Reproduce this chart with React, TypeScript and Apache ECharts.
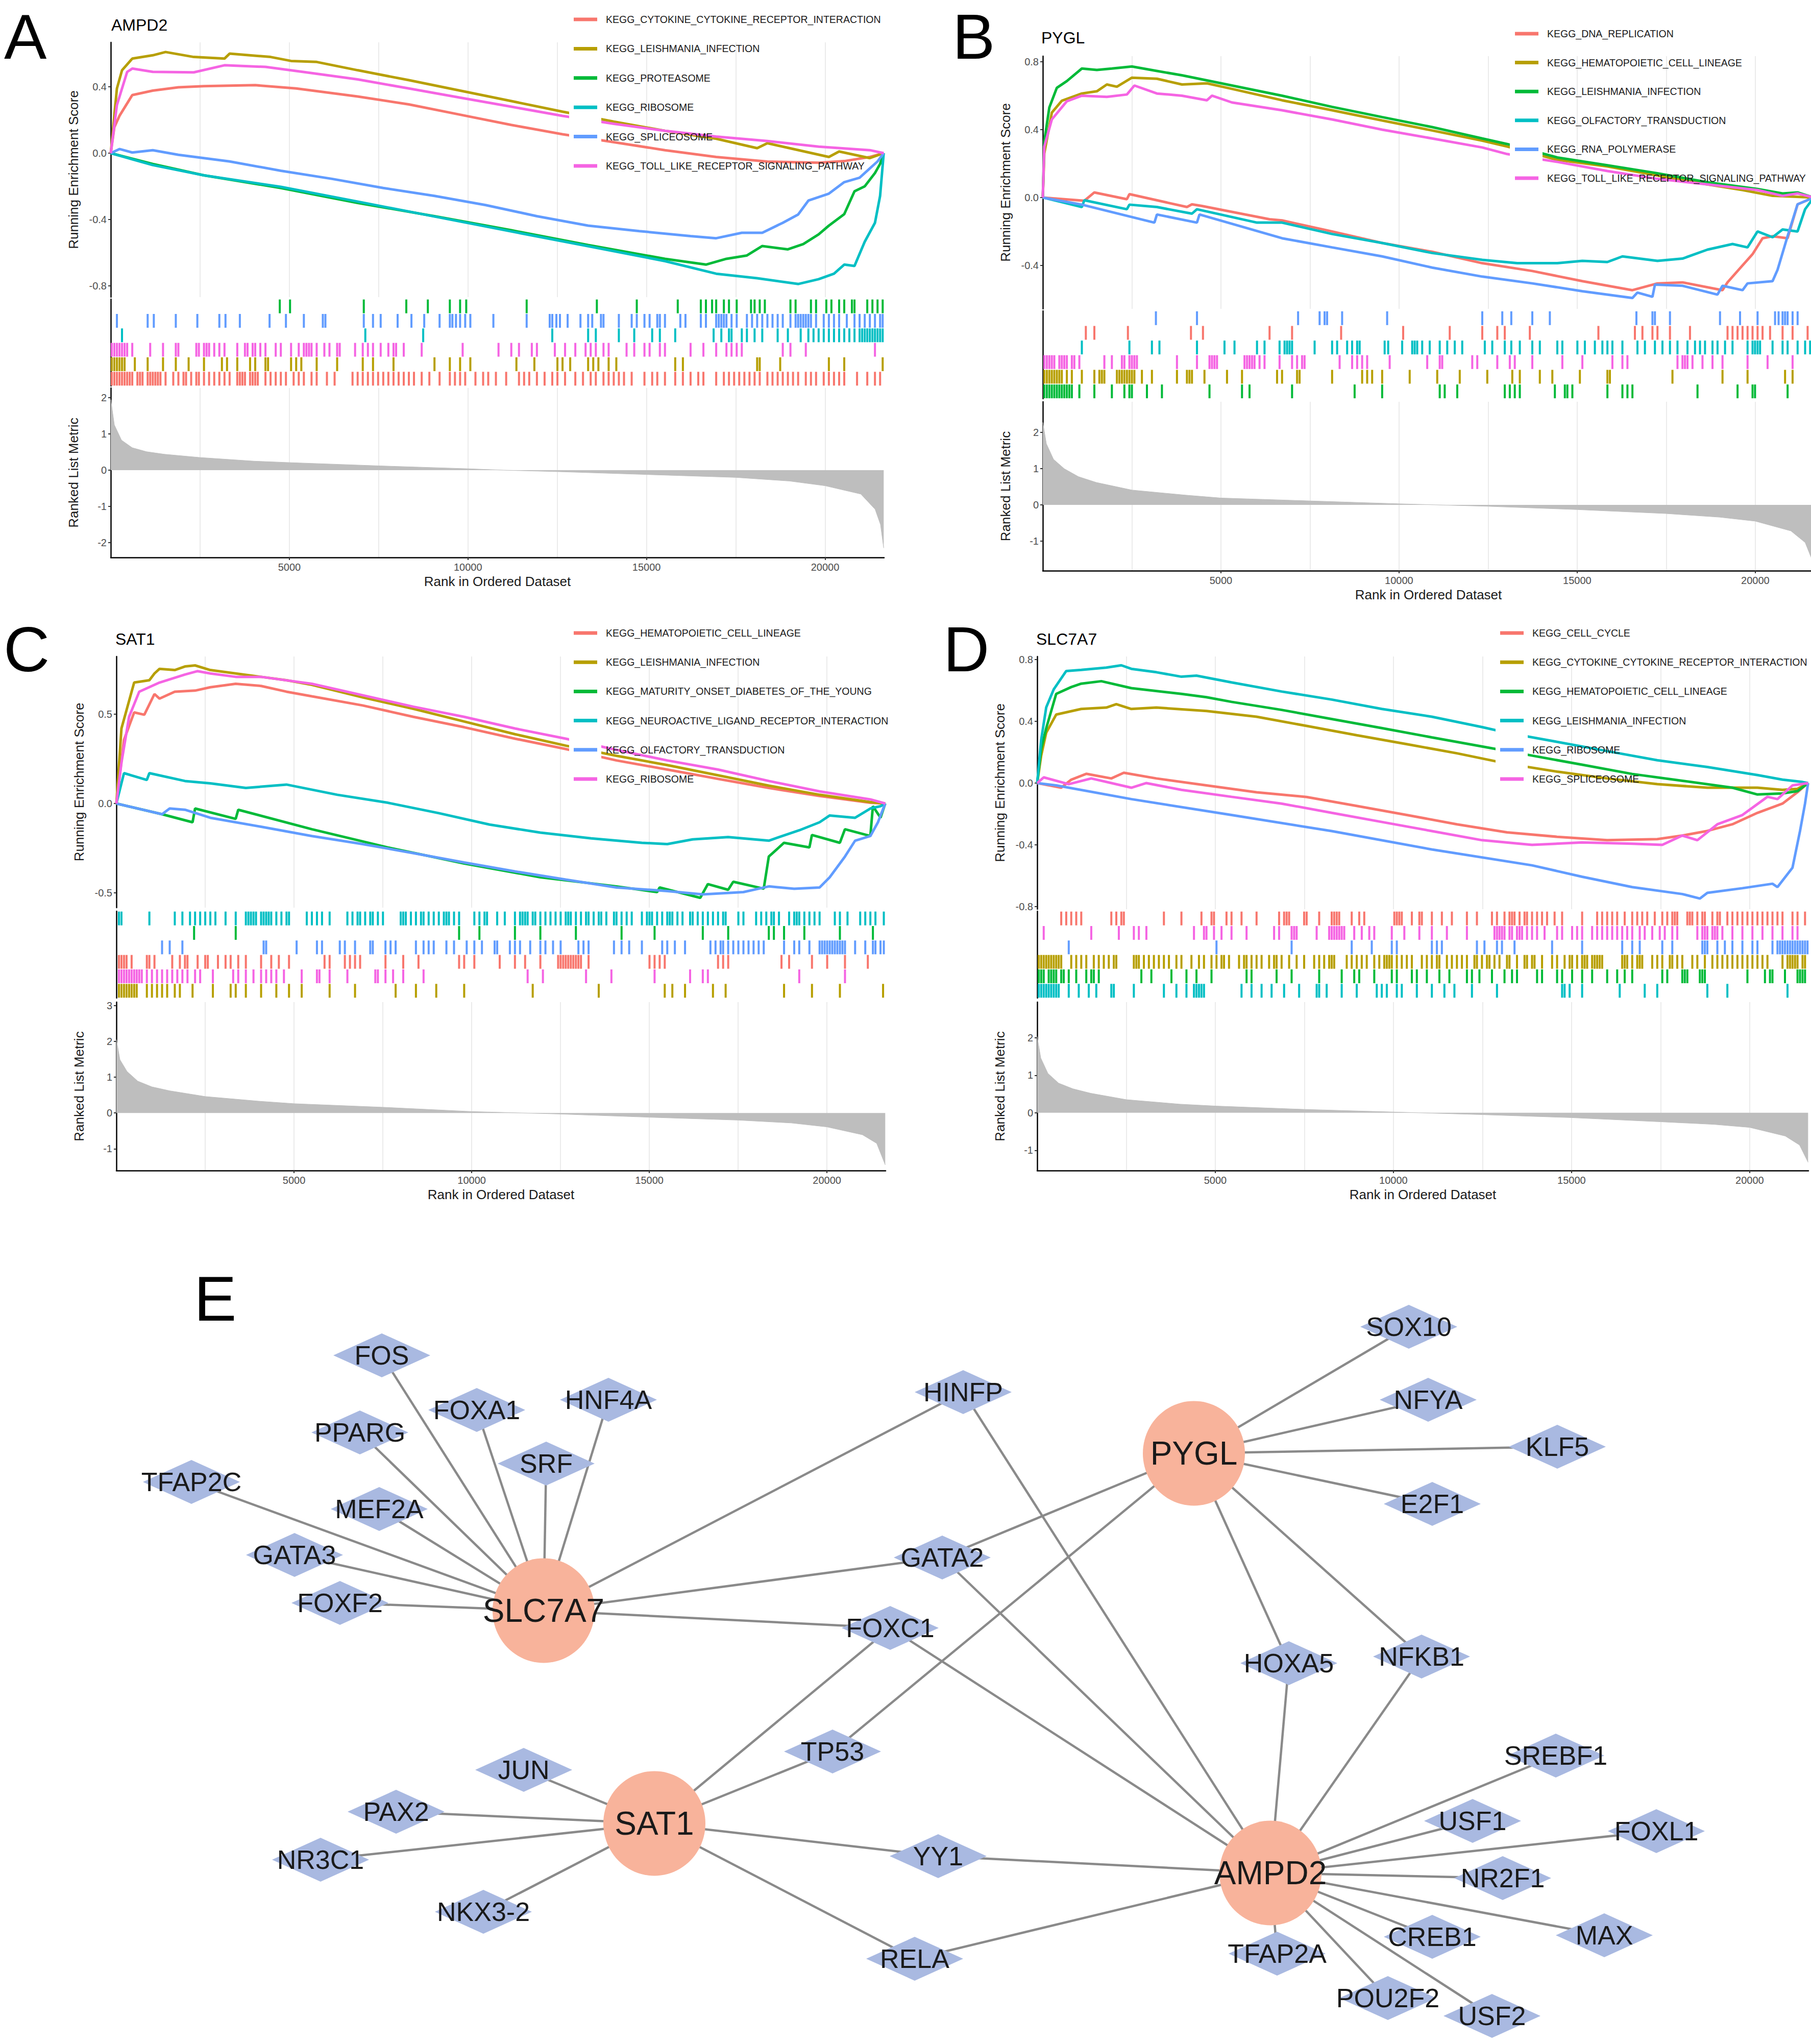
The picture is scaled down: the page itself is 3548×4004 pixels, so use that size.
import React, { useEffect, useRef } from 'react';
import * as echarts from 'echarts';

const FONT = 'Liberation Sans';
const RANK_MAX = 21650;
const rankLabels = [5000, 10000, 15000, 20000];
const SET_COLORS = ['#F8766D', '#B79F00', '#00BA38', '#00BFC4', '#619CFF', '#F564E3'];

// ================= Panel A : AMPD2 =================
const geneA = 'AMPD2';
const setsA = ['KEGG_CYTOKINE_CYTOKINE_RECEPTOR_INTERACTION', 'KEGG_LEISHMANIA_INFECTION', 'KEGG_PROTEASOME', 'KEGG_RIBOSOME', 'KEGG_SPLICEOSOME', 'KEGG_TOLL_LIKE_RECEPTOR_SIGNALING_PATHWAY'];
const rugOrderA = [2, 4, 3, 5, 1, 0];
const esTicksA = [-0.8, -0.4, 0, 0.4];
const metricTicksA = [-2, -1, 0, 1, 2];
const esA_cyto = [[0,0],[100,0.156],[244,0.225],[602,0.35],[1176,0.377],[1893,0.397],[2610,0.404],[4044,0.41],[5191,0.39],[6912,0.342],[8346,0.294],[9780,0.232],[11214,0.17],[12648,0.114],[14082,0.066],[15516,0.018],[16950,-0.023],[18384,-0.051],[19818,-0.058],[20535,-0.048],[21252,-0.023],[21640,0]];
const esA_leish = [[0,0],[172,0.39],[315,0.5],[602,0.57],[1176,0.59],[1534,0.61],[2323,0.58],[3183,0.57],[3327,0.6],[4474,0.58],[5048,0.556],[5765,0.55],[6912,0.5],[8346,0.44],[9780,0.377],[11214,0.314],[12648,0.25],[14082,0.19],[15516,0.135],[16950,0.087],[18097,0.03],[18384,0.06],[20105,-0.023],[20392,0.01],[21252,-0.03],[21640,0]];
const esA_prot = [[0,0],[1176,-0.065],[2610,-0.134],[4761,-0.21],[6912,-0.3],[9063,-0.38],[11214,-0.465],[13365,-0.554],[15516,-0.637],[16663,-0.672],[17237,-0.637],[17810,-0.617],[18240,-0.56],[18957,-0.58],[19388,-0.548],[19818,-0.49],[20105,-0.437],[20535,-0.368],[20822,-0.23],[21109,-0.2],[21395,-0.12],[21539,-0.065],[21640,0]];
const esA_ribo = [[0,0],[1176,-0.072],[2610,-0.134],[4761,-0.203],[6912,-0.292],[9063,-0.382],[11214,-0.472],[13365,-0.561],[15516,-0.651],[16950,-0.727],[18097,-0.754],[19244,-0.789],[19818,-0.76],[20248,-0.727],[20535,-0.672],[20822,-0.68],[21109,-0.534],[21395,-0.42],[21539,-0.258],[21640,0]];
const esA_splice = [[0,0],[244,0.025],[602,0.004],[1176,0.018],[1893,-0.01],[3327,-0.05],[4761,-0.106],[6195,-0.155],[7629,-0.21],[9063,-0.258],[10497,-0.313],[11931,-0.38],[13365,-0.437],[14799,-0.47],[16233,-0.5],[16950,-0.513],[17667,-0.48],[18240,-0.48],[18814,-0.42],[19244,-0.37],[19531,-0.286],[20105,-0.244],[20535,-0.175],[20965,-0.148],[21252,-0.092],[21467,-0.05],[21640,0]];
const esA_toll = [[0,0],[172,0.29],[459,0.49],[602,0.51],[1176,0.49],[2323,0.487],[3183,0.53],[4331,0.52],[5478,0.487],[6912,0.445],[8346,0.39],[9780,0.335],[11214,0.28],[12648,0.225],[14082,0.177],[15516,0.135],[16950,0.1],[18384,0.073],[19818,0.039],[21252,0.018],[21640,0]];
const hitsA_cyto = [29,100,172,244,315,387,459,531,602,746,818,889,1033,1104,1176,1248,1319,1391,1534,1750,1893,2036,2108,2251,2395,2467,2610,2753,2897,3040,3184,3327,3542,3614,3685,3757,3900,3972,4044,4116,4331,4474,4618,4761,4904,5120,5263,5406,5621,5765,6052,6267,6769,6912,7055,7199,7342,7485,7629,7772,7916,8059,8203,8346,8489,8705,8920,9206,9493,9636,9780,9923,10210,10425,10568,10783,11070,11429,11572,11716,11931,12146,12361,12505,12719,13006,13221,13436,13580,13795,13939,14082,14225,14369,14584,14942,15158,15301,15516,15803,16018,16233,16448,16592,16950,17165,17308,17452,17595,17739,17882,18025,18169,18384,18527,18671,18814,18957,19101,19244,19459,19603,19746,19961,20105,20248,20392,20535,20894,21180,21395,21539];
const hitsA_leish = [29,100,172,244,315,387,674,1033,1463,1821,2180,2610,3112,3255,3542,3900,4044,4331,4403,5048,5191,5335,5765,6338,7055,7342,7916,9063,9493,9780,10067,11357,11860,12505,12648,12863,13365,13508,13652,13939,14154,15803,16018,18097,18169,18742,20105,20535,21611];
const hitsA_prot = [4732,5019,7084,8274,8877,9493,9780,9952,11644,13609,14727,15874,16520,16663,16835,16950,17165,17308,17524,17925,18025,18169,18312,19029,19173,19603,19746,20033,20176,20392,20535,20750,20822,21180,21324,21467,21611];
const hitsA_ribo = [315,7127,8747,12361,13365,13580,14225,14656,15158,15373,15803,16878,17094,17308,17380,17667,17810,18025,18240,18671,18957,19316,19531,19675,19818,19961,20105,20248,20392,20535,20678,20822,20965,21037,21109,21180,21252,21324,21395,21467,21539,21611];
const hitsA_splice = [172,1033,1205,1821,2424,3040,3212,3614,4446,4904,5406,5937,6009,7084,7342,7557,8031,8418,8776,9206,9493,9565,9665,9780,9923,10067,10712,11644,12289,12361,12476,12576,12791,13150,13365,13480,13724,13795,14225,14584,14727,14942,15086,15301,15373,15516,15946,16090,16520,16663,16950,17022,17094,17165,17237,17380,17524,17810,17954,18097,18240,18384,18527,18671,18814,19029,19173,19244,19316,19388,19459,19531,19603,19746,19961,20105,20248,20392,20607,20822,20965,21109,21252,21395,21539,21611];
const hitsA_toll = [29,100,172,244,315,387,459,602,1104,1463,1821,1893,2395,2467,2610,2682,2753,2897,3040,3184,3542,3757,3829,3972,4044,4187,4331,4618,4761,5048,5263,5406,5478,5550,5621,5765,5980,6123,6338,6410,6840,7055,7199,7342,7557,7772,7916,7988,8203,8705,9852,10856,11214,11429,11788,11931,12433,12719,13006,13293,13436,13580,13795,13939,14441,14656,14942,15086,15373,15516,16233,16592,16950,17237,17380,17524,17667,18814,19029,19459,21395];
const metricA = [[0,1.95],[100,1.25],[300,0.83],[600,0.62],[1000,0.51],[1500,0.44],[2500,0.35],[4000,0.25],[5000,0.21],[7500,0.12],[10000,0.04],[11000,0],[12500,-0.04],[15000,-0.12],[17500,-0.2],[19000,-0.3],[20000,-0.43],[21000,-0.66],[21400,-1.08],[21550,-1.5],[21640,-2.15]];

// ================= Panel B : PYGL =================
const geneB = 'PYGL';
const setsB = ['KEGG_DNA_REPLICATION', 'KEGG_HEMATOPOIETIC_CELL_LINEAGE', 'KEGG_LEISHMANIA_INFECTION', 'KEGG_OLFACTORY_TRANSDUCTION', 'KEGG_RNA_POLYMERASE', 'KEGG_TOLL_LIKE_RECEPTOR_SIGNALING_PATHWAY'];
const rugOrderB = [4, 0, 3, 5, 1, 2];
const esTicksB = [-0.4, 0, 0.4, 0.8];
const metricTicksB = [-1, 0, 1, 2];
const esB_dna = [[0,0],[1166,-0.019],[1447,0.03],[2360,-0.01],[2431,0.02],[4046,-0.056],[4187,-0.04],[4468,-0.05],[6365,-0.128],[6716,-0.135],[8121,-0.2],[9526,-0.268],[10931,-0.32],[12336,-0.387],[13741,-0.433],[15146,-0.493],[16551,-0.546],[17253,-0.506],[17956,-0.5],[19080,-0.546],[19220,-0.5],[19642,-0.4],[19923,-0.334],[20204,-0.24],[20485,-0.228],[20906,-0.24],[21187,-0.04],[21640,0]];
const esB_hemato = [[0,0],[42,0.26],[253,0.5],[534,0.57],[1096,0.613],[1517,0.626],[1798,0.666],[2079,0.653],[2501,0.706],[3203,0.7],[3906,0.666],[4608,0.673],[5311,0.64],[6716,0.573],[8121,0.514],[9526,0.454],[10931,0.395],[12336,0.335],[13038,0.3],[14443,0.222],[15848,0.183],[17253,0.13],[18658,0.077],[19642,0.044],[20485,0.01],[21640,0]];
const esB_leish = [[0,0],[42,0.33],[183,0.53],[393,0.646],[674,0.686],[1096,0.76],[1517,0.752],[1939,0.76],[2501,0.772],[3203,0.746],[3906,0.72],[5311,0.66],[6716,0.6],[8121,0.534],[9526,0.474],[10931,0.415],[12336,0.348],[13038,0.315],[14443,0.236],[15848,0.19],[17253,0.143],[18658,0.09],[20063,0.05],[20766,0.024],[21187,0.03],[21640,0]];
const esB_olf = [[0,0],[1096,-0.056],[1166,-0.016],[2360,-0.069],[2431,-0.042],[3203,-0.056],[4187,-0.095],[4327,-0.069],[6013,-0.148],[6716,-0.148],[8121,-0.215],[9526,-0.268],[10931,-0.327],[12336,-0.367],[13319,-0.387],[14443,-0.387],[15146,-0.373],[15848,-0.38],[16270,-0.347],[17253,-0.373],[17956,-0.36],[18658,-0.307],[19361,-0.274],[19782,-0.294],[20063,-0.2],[20485,-0.234],[20766,-0.188],[21187,-0.2],[21398,-0.069],[21640,0]];
const esB_rna = [[0,0],[1096,-0.042],[3133,-0.148],[3203,-0.1],[4327,-0.148],[4398,-0.1],[6716,-0.24],[8121,-0.294],[9526,-0.347],[10931,-0.413],[12336,-0.466],[13741,-0.506],[15146,-0.552],[16551,-0.592],[16691,-0.56],[17113,-0.585],[17183,-0.513],[17956,-0.52],[18939,-0.572],[19080,-0.52],[19642,-0.546],[19782,-0.506],[20485,-0.493],[20625,-0.426],[20906,-0.228],[21187,-0.04],[21640,0]];
const esB_toll = [[0,0],[42,0.3],[253,0.46],[674,0.567],[1096,0.6],[1798,0.593],[2360,0.607],[2571,0.66],[3203,0.613],[3906,0.6],[4608,0.573],[4749,0.6],[5311,0.56],[6716,0.514],[8121,0.46],[9526,0.4],[10931,0.348],[12336,0.295],[13038,0.256],[14443,0.21],[15848,0.156],[17253,0.11],[18658,0.077],[20063,0.044],[20766,0.01],[21187,0.024],[21640,0]];
const hitsB_dna = [1208,1447,2389,4159,4496,6365,6997,8374,10116,11423,12336,12758,12968,13671,15596,16621,16832,17113,17254,17605,18167,19221,19361,19502,19642,19783,19923,20064,20204,20415,20766,21047,21469];
const hitsB_hemato = [42,113,183,253,323,394,464,534,675,815,1096,1447,1588,1658,1728,2080,2150,2220,2290,2361,2431,2501,2571,2782,3063,3766,4046,4117,4187,4538,5171,5592,6576,6716,7138,7208,8121,8964,9105,9245,9526,10299,11072,11704,12477,13179,13390,13952,14303,15076,15849,15919,17675,19080,19783,20836,21047];
const hitsB_leish = [42,113,183,253,323,394,464,534,604,675,745,815,1026,1447,1939,2290,2431,2501,2923,3344,4679,5592,5803,6997,8753,9526,11142,11282,11634,12968,13109,13249,13390,14374,14654,14725,14865,15849,16270,16411,16551,18378,19502,19923,19993,20907];
const hitsB_olf = [1096,2431,3063,3274,4328,5100,5381,6013,6224,6646,6786,6857,6927,6997,7630,8121,8262,8543,8683,8824,8894,9596,9695,10088,10369,10439,10510,10650,10861,11142,11353,11564,11774,12407,12617,12968,13151,13390,13741,13952,14443,14584,15006,15216,15497,15708,15849,15989,16270,16692,16902,17183,17394,17605,17816,18097,18308,18448,18589,18799,18940,19151,19361,19783,19923,19993,20064,20134,20485,20766,20907,21188,21399,21539];
const hitsB_rna = [3175,4328,7166,7770,7910,7980,8402,9666,12336,12898,13151,13741,14233,16663,17113,17183,17605,19010,19572,20064,20555,20654,20766,20836,20907,21047,21188];
const hitsB_toll = [42,113,183,253,323,464,534,604,675,815,885,1026,1728,1939,2220,2290,2431,2501,2571,2642,3766,4328,4679,4749,4819,4890,5662,5733,5803,5873,5943,6084,6224,6646,6997,7138,7278,7348,8332,8683,8824,8964,9105,9737,10791,11142,11212,12055,12196,12758,13109,13249,13741,14584,15146,15989,16270,16411,17816,17956,18026,18097,18237,18518,18799,19080,19783,20345,21047];
const metricB = [[0,2.28],[100,1.69],[300,1.26],[600,1.0],[1000,0.78],[1500,0.62],[2500,0.41],[4000,0.27],[5000,0.19],[7500,0.11],[10000,0.03],[12500,-0.04],[15000,-0.13],[17500,-0.24],[19000,-0.34],[20000,-0.45],[21000,-0.72],[21400,-1.04],[21640,-1.63]];

// ================= Panel C : SAT1 =================
const geneC = 'SAT1';
const setsC = ['KEGG_HEMATOPOIETIC_CELL_LINEAGE', 'KEGG_LEISHMANIA_INFECTION', 'KEGG_MATURITY_ONSET_DIABETES_OF_THE_YOUNG', 'KEGG_NEUROACTIVE_LIGAND_RECEPTOR_INTERACTION', 'KEGG_OLFACTORY_TRANSDUCTION', 'KEGG_RIBOSOME'];
const rugOrderC = [3, 2, 4, 0, 5, 1];
const esTicksC = [-0.5, 0, 0.5];
const metricTicksC = [-1, 0, 1, 2, 3];
const esC_hemato = [[0,0],[214,0.356],[500,0.51],[786,0.497],[1072,0.613],[1215,0.587],[1643,0.626],[2215,0.632],[2644,0.651],[3358,0.67],[4073,0.658],[4787,0.626],[5502,0.6],[6931,0.549],[8360,0.485],[9789,0.427],[11218,0.363],[12647,0.305],[14076,0.241],[15505,0.19],[16934,0.138],[18363,0.087],[19792,0.042],[21221,0.004],[21640,0]];
const esC_leish = [[0,0],[143,0.42],[357,0.574],[500,0.677],[929,0.69],[1072,0.728],[1215,0.754],[1643,0.747],[1929,0.767],[2215,0.773],[2644,0.747],[3358,0.728],[4073,0.709],[4787,0.69],[5502,0.664],[6931,0.594],[8360,0.53],[9789,0.459],[11218,0.388],[12647,0.324],[14076,0.267],[15505,0.215],[16934,0.158],[18363,0.1],[19792,0.049],[21221,0.008],[21640,0]];
const esC_mody = [[0,0],[1286,-0.06],[2144,-0.105],[2215,-0.028],[3358,-0.086],[3430,-0.035],[5502,-0.144],[7645,-0.246],[9789,-0.336],[11932,-0.413],[14076,-0.464],[15219,-0.496],[15290,-0.47],[16434,-0.528],[16648,-0.451],[17219,-0.483],[17362,-0.438],[18220,-0.477],[18363,-0.297],[18791,-0.22],[19506,-0.246],[19577,-0.176],[20363,-0.22],[20506,-0.144],[21221,-0.182],[21292,-0.015],[21507,-0.08],[21640,0]];
const esC_neuro = [[0,0],[214,0.17],[857,0.132],[929,0.17],[1929,0.126],[2644,0.113],[3644,0.087],[4787,0.106],[6216,0.049],[7645,0.004],[9074,-0.054],[10503,-0.118],[11932,-0.163],[13361,-0.195],[14790,-0.22],[15505,-0.227],[16219,-0.201],[17219,-0.188],[18363,-0.208],[18648,-0.188],[19220,-0.15],[19792,-0.105],[20077,-0.067],[20792,-0.08],[21221,-0.028],[21507,-0.015],[21640,0]];
const esC_olf = [[0,0],[1286,-0.06],[1500,-0.028],[1929,-0.035],[2644,-0.08],[4073,-0.13],[5502,-0.182],[6931,-0.227],[8360,-0.278],[9789,-0.33],[11218,-0.38],[12647,-0.426],[14076,-0.47],[15505,-0.49],[16505,-0.509],[17648,-0.496],[18363,-0.464],[19077,-0.477],[19792,-0.47],[20077,-0.413],[20506,-0.297],[20792,-0.208],[21221,-0.182],[21435,-0.105],[21640,0]];
const esC_ribo = [[0,0],[143,0.228],[357,0.485],[643,0.626],[1215,0.677],[1929,0.722],[2286,0.741],[2644,0.728],[3358,0.709],[4073,0.709],[5502,0.67],[6931,0.606],[8360,0.542],[9789,0.485],[11218,0.42],[12647,0.363],[14076,0.3],[15505,0.241],[16934,0.19],[18363,0.126],[19792,0.068],[21221,0.023],[21640,0]];
const hitsC_hemato = [72,143,215,286,429,858,929,1072,1572,1787,1930,2001,2287,2501,2573,2859,3073,3216,3430,3644,4073,4359,4573,4859,5859,6002,6431,6574,6717,6860,7574,8074,8503,9646,9789,10075,10789,11218,11504,11933,12433,12504,12576,12647,12718,12790,12861,12933,13004,13076,13290,15005,15148,15291,15434,16934,17077,17220,18720,18935,19578,20006,20507,21150];
const hitsC_leish = [72,143,215,286,358,429,501,572,858,1001,1144,1286,1429,1644,1787,2144,2716,3216,3359,3644,4073,4502,4859,5216,6002,6717,7860,8431,9003,9789,11718,13576,15434,15648,16005,16791,17148,18792,19578,20364,21579];
const hitsC_mody = [2187,3359,9646,10218,11218,11933,12933,14219,15148,16505,17220,18363,18506,18792,19363,20364,21293];
const hitsC_neuro = [72,143,929,1644,1858,2072,2215,2358,2501,2644,2787,3073,3359,3644,3716,3787,3859,3930,4073,4144,4216,4287,4359,4502,4645,4788,4859,5359,5502,5645,5788,6002,6502,6645,6788,6860,7002,7145,7217,7360,7503,8003,8074,8146,8289,8431,8574,8646,8789,8932,9075,9217,9289,9360,9503,9646,10075,10218,10361,10432,10718,10932,11218,11361,11432,11504,11575,11718,11790,11933,12076,12218,12361,12504,12647,12718,12790,12933,13076,13219,13290,13433,13576,13647,13790,14005,14076,14219,14362,14505,14791,14933,15005,15076,15219,15362,15505,15576,15648,15791,15934,16148,16220,16362,16505,16648,16791,16934,17077,17148,17506,17649,18006,18149,18292,18435,18506,18649,18935,19078,19149,19220,19363,19506,19649,19792,20221,20364,20578,20935,21078,21221,21364,21600];
const hitsC_olf = [1286,1501,1858,4144,4216,5073,5645,5788,6288,6431,6717,7145,7217,7574,7717,7860,8431,8646,8789,8932,9289,9503,9860,10075,10289,10646,10718,11075,11218,11361,11647,11933,12076,12290,12504,13004,13147,13290,14005,14219,14433,14791,15362,15505,15719,16005,16720,16863,17006,17077,17220,17363,17506,17649,17792,17934,18077,18220,18792,19078,19220,19506,19792,19863,19935,20006,20078,20149,20221,20292,20364,20435,20507,20792,21078,21293,21364,21507,21600];
const hitsC_ribo = [72,143,215,286,358,429,501,572,643,715,858,1001,1144,1286,1429,1572,1715,1858,2001,2215,2358,2716,3287,3430,3644,3859,4073,4216,4359,4502,4716,5216,5645,5716,6002,6502,7288,7360,7574,7788,8074,8646,11575,12005,13219,13933,15148,16148,16505,16648,19220,20507];
const metricC = [[0,2.05],[100,1.49],[300,1.16],[600,0.89],[1000,0.73],[1500,0.62],[2500,0.46],[4000,0.33],[5000,0.26],[7500,0.16],[10000,0.04],[12500,-0.03],[15000,-0.12],[17500,-0.2],[19000,-0.28],[20000,-0.39],[21000,-0.61],[21400,-0.85],[21640,-1.45]];

// ================= Panel D : SLC7A7 =================
const geneD = 'SLC7A7';
const setsD = ['KEGG_CELL_CYCLE', 'KEGG_CYTOKINE_CYTOKINE_RECEPTOR_INTERACTION', 'KEGG_HEMATOPOIETIC_CELL_LINEAGE', 'KEGG_LEISHMANIA_INFECTION', 'KEGG_RIBOSOME', 'KEGG_SPLICEOSOME'];
const rugOrderD = [0, 5, 4, 1, 2, 3];
const esTicksD = [-0.8, -0.4, 0, 0.4, 0.8];
const metricTicksD = [-1, 0, 1, 2];
const esD_cc = [[0,0],[675,-0.03],[956,0.022],[1378,0.06],[2081,0.03],[2432,0.067],[3346,0.03],[4752,-0.015],[6158,-0.06],[7564,-0.09],[8970,-0.148],[10376,-0.207],[11782,-0.267],[13188,-0.319],[14594,-0.348],[16000,-0.37],[17406,-0.363],[18109,-0.34],[18812,-0.31],[19515,-0.267],[20218,-0.193],[20921,-0.133],[21343,-0.059],[21640,0]];
const esD_cyto = [[0,0],[112,0.178],[253,0.326],[534,0.444],[1237,0.48],[1940,0.489],[2221,0.511],[2643,0.48],[3346,0.489],[4752,0.467],[6158,0.43],[7564,0.37],[8970,0.31],[10376,0.252],[11782,0.193],[13188,0.126],[14594,0.074],[16000,0.03],[17406,-0.007],[18812,-0.03],[20218,-0.03],[20921,-0.044],[21343,-0.037],[21640,0]];
const esD_hemato = [[0,0],[112,0.222],[253,0.355],[534,0.578],[956,0.622],[1237,0.644],[1800,0.66],[2643,0.615],[4049,0.578],[4752,0.556],[5455,0.526],[6861,0.474],[8267,0.415],[9673,0.356],[11079,0.296],[12485,0.237],[13891,0.178],[15297,0.119],[16703,0.059],[18109,0.015],[19515,-0.03],[20218,-0.074],[20921,-0.067],[21343,-0.052],[21640,0]];
const esD_leish = [[0,0],[112,0.28],[253,0.49],[464,0.607],[815,0.726],[1237,0.733],[1940,0.748],[2362,0.763],[2643,0.74],[3346,0.718],[4049,0.689],[4471,0.696],[5455,0.652],[6861,0.593],[8267,0.541],[9673,0.48],[11079,0.43],[12485,0.363],[13188,0.326],[14594,0.267],[16000,0.207],[17406,0.148],[18812,0.104],[20218,0.052],[20921,0.022],[21484,0.007],[21640,0]];
const esD_ribo = [[0,0],[534,-0.015],[2643,-0.104],[5455,-0.207],[8267,-0.311],[11079,-0.43],[13891,-0.533],[15297,-0.607],[16703,-0.674],[18109,-0.719],[18601,-0.748],[18812,-0.711],[19796,-0.681],[20640,-0.652],[20780,-0.674],[21202,-0.548],[21413,-0.311],[21554,-0.133],[21640,0]];
const esD_splice = [[0,0],[183,0.037],[886,-0.007],[1518,0.03],[2643,-0.03],[3065,0],[4049,-0.044],[5455,-0.089],[6861,-0.133],[8267,-0.193],[9673,-0.252],[11079,-0.311],[12485,-0.37],[13891,-0.4],[15297,-0.385],[16703,-0.393],[17547,-0.4],[18109,-0.34],[18531,-0.37],[19093,-0.267],[19796,-0.207],[20499,-0.089],[20780,-0.104],[21202,-0.015],[21640,0]];
const hitsD_cc = [675,815,956,1096,1237,2081,2221,2362,2432,3557,4049,4611,4893,4963,5314,5455,5736,6158,6791,6931,7002,7072,7494,7564,7916,8267,8337,8408,8478,8829,9040,9181,10025,10095,10165,10235,10517,10728,10798,11079,11360,11641,12063,12344,12766,12907,13118,13258,13329,13399,13540,13680,13750,13891,14032,14172,14313,14524,14735,15297,15719,15859,16000,16141,16281,16492,16703,16844,16984,17125,17336,17547,17687,17828,17899,17968,18250,18320,18390,18531,18671,18742,18953,19093,19164,19374,19515,19656,19796,19937,20077,20218,20359,20499,20640,20780,20921,21202,21343,21554];
const hitsD_cyto = [42,112,183,253,323,393,464,534,604,675,956,1096,1237,1378,1589,1729,1870,2010,2151,2221,2713,2784,2854,2995,3135,3276,3416,3557,3698,3908,4049,4330,4541,4682,4893,5033,5174,5244,5385,5666,5807,5877,6017,6158,6299,6510,6650,6720,6861,7072,7283,7494,7775,7916,8056,8197,8267,8337,8689,8829,8970,9111,9251,9462,9603,9743,9814,9884,9954,10095,10235,10376,10517,10798,10938,11079,11220,11290,11501,11641,11782,11923,12063,12274,12344,12485,12626,12696,12836,12977,13188,13258,13469,13680,13750,13891,13961,14172,14454,14594,14805,14946,15016,15156,15297,15367,15438,15578,15649,15719,15789,15859,16422,16492,16562,16703,16844,16914,16984,17265,17406,17547,17758,17828,17968,18109,18390,18531,18742,18953,19093,19234,19374,19515,19656,19796,19937,20077,20218,20359,20499,20921,21062,21132,21202,21273,21343,21484,21554];
const hitsD_hemato = [42,112,183,323,393,464,534,675,745,886,1096,1378,1518,1589,1729,2924,3205,3768,4190,4471,4893,5877,6017,6720,7142,7916,8548,8900,9040,9462,9954,10095,10517,10657,10938,11290,11571,12063,12204,12414,12766,13118,13329,13469,14032,14172,14594,14735,15016,15297,15578,16000,16281,16492,16703,17547,17687,18109,18179,18250,18601,18671,18742,19937,20429,20570,20640,20991,21343,21413,21484,21554];
const hitsD_leish = [42,112,183,253,323,393,464,534,604,886,1167,1448,1659,2081,2151,2713,3557,3908,4190,4401,4471,4541,4611,4682,5736,6017,6299,6580,6931,7353,7845,7916,8126,8548,8970,9532,9673,9814,10095,10235,10657,11079,11431,11712,12204,12907,14735,14805,14946,15297,16352,17054,17406,18812,19374,21062];
const hitsD_ribo = [886,5033,7142,8829,9392,9954,10095,11079,11220,11360,12344,12555,12907,13047,13399,14454,15297,16422,16703,16914,17547,17828,18671,18742,18812,19093,19304,19515,19796,20077,20218,20640,20780,20851,20921,20991,21062,21132,21202,21273,21343,21413,21484,21554,21624];
const hitsD_splice = [183,1518,2292,2713,2854,3065,4401,4682,4752,4963,5174,5455,5877,6650,6791,7142,7213,7283,7845,8197,8267,8337,8408,8478,8548,8619,8900,9111,9322,9462,9954,10306,10728,11079,11501,12063,12836,12907,12977,13047,13118,13258,13329,13469,13540,13610,13750,13891,14032,14242,14594,14735,15016,15156,15297,15578,15719,15859,16000,16141,16281,16422,16562,16703,16914,17054,17265,17476,17617,17828,17968,18531,18671,18742,18812,18953,19023,19093,19234,19515,19796,20077,20359,20640,20921,21202,21343];
const metricD = [[0,2.03],[100,1.46],[300,1.05],[600,0.79],[1000,0.64],[1500,0.52],[2500,0.35],[4000,0.23],[5000,0.18],[7500,0.09],[10000,0.02],[12500,-0.05],[15000,-0.13],[17500,-0.24],[19000,-0.31],[20000,-0.39],[21000,-0.62],[21400,-0.86],[21640,-1.32]];

// ================= Panel E : regulatory network =================
const hubNames = ['SLC7A7', 'PYGL', 'SAT1', 'AMPD2'];
const hubX = [1065, 2339, 1282, 2489];
const hubY = [3155, 2847, 3572, 3669];
const tfNames = ['FOS','FOXA1','HNF4A','PPARG','SRF','TFAP2C','MEF2A','GATA3','FOXF2','HINFP','GATA2','FOXC1','SOX10','NFYA','KLF5','E2F1','HOXA5','NFKB1','TP53','JUN','PAX2','NR3C1','NKX3-2','YY1','RELA','SREBF1','USF1','FOXL1','NR2F1','MAX','CREB1','TFAP2A','POU2F2','USF2'];
const tfX = [748,934,1192,705,1070,375,743,577,666,1887,1846,1744,2760,2798,3051,2806,2525,2785,1631,1026,776,628,947,1838,1792,3048,2885,3245,2944,3143,2806,2502,2719,2923];
const tfY = [2655,2762,2742,2806,2867,2903,2956,3046,3140,2727,3051,3189,2599,2742,2834,2946,3258,3245,3431,3467,3549,3643,3745,3636,3837,3439,3567,3587,3679,3791,3794,3827,3914,3949];
const edgeList = [
  ['SLC7A7','FOS'],['SLC7A7','FOXA1'],['SLC7A7','HNF4A'],['SLC7A7','PPARG'],['SLC7A7','SRF'],['SLC7A7','TFAP2C'],['SLC7A7','MEF2A'],['SLC7A7','GATA3'],['SLC7A7','FOXF2'],['SLC7A7','HINFP'],['SLC7A7','GATA2'],['SLC7A7','FOXC1'],
  ['PYGL','SOX10'],['PYGL','NFYA'],['PYGL','KLF5'],['PYGL','E2F1'],['PYGL','GATA2'],['PYGL','TP53'],['PYGL','HOXA5'],['PYGL','NFKB1'],
  ['SAT1','JUN'],['SAT1','PAX2'],['SAT1','NR3C1'],['SAT1','NKX3-2'],['SAT1','YY1'],['SAT1','RELA'],['SAT1','TP53'],['SAT1','FOXC1'],
  ['AMPD2','SREBF1'],['AMPD2','USF1'],['AMPD2','FOXL1'],['AMPD2','NR2F1'],['AMPD2','MAX'],['AMPD2','CREB1'],['AMPD2','TFAP2A'],['AMPD2','POU2F2'],['AMPD2','USF2'],['AMPD2','HINFP'],['AMPD2','GATA2'],['AMPD2','FOXC1'],['AMPD2','HOXA5'],['AMPD2','NFKB1'],['AMPD2','YY1'],['AMPD2','RELA'],
];

// ---------- assembly ----------
const PANELS = [
  { key: 'A', gene: geneA, sets: setsA, rugOrder: rugOrderA, es: [esA_cyto, esA_leish, esA_prot, esA_ribo, esA_splice, esA_toll], hits: [hitsA_cyto, hitsA_leish, hitsA_prot, hitsA_ribo, hitsA_splice, hitsA_toll], metric: metricA, esRange: [-0.868, 0.668], esTicks: esTicksA, metRange: [-2.41, 2.27], metTicks: metricTicksA },
  { key: 'B', gene: geneB, sets: setsB, rugOrder: rugOrderB, es: [esB_dna, esB_hemato, esB_leish, esB_olf, esB_rna, esB_toll], hits: [hitsB_dna, hitsB_hemato, hitsB_leish, hitsB_olf, hitsB_rna, hitsB_toll], metric: metricB, esRange: [-0.656, 0.833], esTicks: esTicksB, metRange: [-1.82, 2.85], metTicks: metricTicksB },
  { key: 'C', gene: geneC, sets: setsC, rugOrder: rugOrderC, es: [esC_hemato, esC_leish, esC_mody, esC_neuro, esC_olf, esC_ribo], hits: [hitsC_hemato, hitsC_leish, hitsC_mody, hitsC_neuro, hitsC_olf, hitsC_ribo], metric: metricC, esRange: [-0.583, 0.823], esTicks: esTicksC, metRange: [-1.61, 3.1], metTicks: metricTicksC },
  { key: 'D', gene: geneD, sets: setsD, rugOrder: rugOrderD, es: [esD_cc, esD_cyto, esD_hemato, esD_leish, esD_ribo, esD_splice], hits: [hitsD_cc, hitsD_cyto, hitsD_hemato, hitsD_leish, hitsD_ribo, hitsD_splice], metric: metricD, esRange: [-0.817, 0.82], esTicks: esTicksD, metRange: [-1.54, 2.95], metTicks: metricTicksD },
];

const LAYOUTS = [
  { letter: [8, 9], gene: [218, 33], left: 217, width: 1515, es: [83, 582], rug: [586, 756], met: [760, 1092], legend: [1124, 28], legendGap: 37.4, keyBox: [1115, 9, 63, 345] },
  { letter: [1866, 9], gene: [2040, 58], left: 2043, width: 1511, es: [110, 605], rug: [609, 781], met: [787, 1118], legend: [2968, 56], legendGap: 36.6, keyBox: [2958, 38, 64, 340] },
  { letter: [7, 1209], gene: [226, 1236], left: 228, width: 1507, es: [1286, 1778], rug: [1785, 1955], met: [1963, 2293], legend: [1124, 1230], legendGap: 37.2, keyBox: [1115, 1211, 63, 344] },
  { letter: [1848, 1209], gene: [2030, 1236], left: 2032, width: 1511, es: [1286, 1781], rug: [1785, 1955], met: [1963, 2293], legend: [2939, 1230], legendGap: 37.2, keyBox: [2930, 1211, 63, 344] },
];

function buildOption() {
  const grid: any[] = [];
  const xAxis: any[] = [];
  const yAxis: any[] = [];
  const series: any[] = [];
  const legend: any[] = [];
  const title: any[] = [];
  const graphic: any[] = [];

  const axisLineStyle = { color: '#000000', width: 2.5 };
  const tickStyle = { color: '#333333', width: 2 };
  const tickLabel = { fontSize: 20, color: '#4D4D4D', fontFamily: FONT };
  const nameStyle = { fontSize: 26, color: '#1A1A1A', fontFamily: FONT };
  const splitStyle = { color: '#EBEBEB', width: 2 };

  PANELS.forEach((P, p) => {
    const L = LAYOUTS[p];
    const g0 = grid.length;
    const x0 = xAxis.length;
    const y0 = yAxis.length;
    grid.push({ left: L.left, width: L.width, top: L.es[0], height: L.es[1] - L.es[0], outerBoundsMode: 'none', containLabel: false });
    grid.push({ left: L.left, width: L.width, top: L.rug[0], height: L.rug[1] - L.rug[0], outerBoundsMode: 'none', containLabel: false });
    grid.push({ left: L.left, width: L.width, top: L.met[0], height: L.met[1] - L.met[0], outerBoundsMode: 'none', containLabel: false });

    const gridLineAxis = (gi: number, pos: string) => ({
      type: 'value', gridIndex: gi, position: pos, min: 0, max: RANK_MAX, interval: 2500,
      axisLine: { show: false, onZero: false }, axisTick: { show: false }, axisLabel: { show: false },
      splitLine: { show: true, lineStyle: splitStyle, showMinLine: false, showMaxLine: false },
    });
    xAxis.push(gridLineAxis(g0, 'bottom'));
    xAxis.push({ type: 'value', gridIndex: g0 + 1, min: 0, max: RANK_MAX, axisLine: { show: false, onZero: false }, axisTick: { show: false }, axisLabel: { show: false }, splitLine: { show: false } });
    xAxis.push(gridLineAxis(g0 + 2, 'top'));
    xAxis.push({
      type: 'value', gridIndex: g0 + 2, position: 'bottom', min: 0, max: RANK_MAX,
      axisLine: { show: true, onZero: false, lineStyle: axisLineStyle },
      axisTick: { show: true, customValues: rankLabels, length: 5, lineStyle: tickStyle },
      axisLabel: { show: true, customValues: rankLabels, margin: 9, formatter: (v: number) => String(Math.round(v)), ...tickLabel },
      splitLine: { show: false },
      name: 'Rank in Ordered Dataset', nameLocation: 'middle', nameGap: 34, nameTextStyle: nameStyle,
    });

    yAxis.push({
      type: 'value', gridIndex: g0, min: P.esRange[0], max: P.esRange[1],
      axisLine: { show: true, onZero: false, lineStyle: axisLineStyle },
      axisTick: { show: true, customValues: P.esTicks, length: 5, lineStyle: tickStyle },
      axisLabel: { show: true, customValues: P.esTicks, margin: 8, formatter: (v: number) => v.toFixed(1), ...tickLabel },
      splitLine: { show: false },
      name: 'Running Enrichment Score', nameLocation: 'middle', nameGap: 60, nameRotate: 90, nameTextStyle: nameStyle,
    });
    yAxis.push({
      type: 'value', gridIndex: g0 + 1, min: 0, max: 6,
      axisLine: { show: true, onZero: false, lineStyle: axisLineStyle },
      axisTick: { show: false }, axisLabel: { show: false }, splitLine: { show: false },
    });
    yAxis.push({
      type: 'value', gridIndex: g0 + 2, min: P.metRange[0], max: P.metRange[1],
      axisLine: { show: true, onZero: false, lineStyle: axisLineStyle },
      axisTick: { show: true, customValues: P.metTicks, length: 5, lineStyle: tickStyle },
      axisLabel: { show: true, customValues: P.metTicks, margin: 8, formatter: (v: number) => String(Math.round(v)), ...tickLabel },
      splitLine: { show: false },
      name: 'Ranked List Metric', nameLocation: 'middle', nameGap: 60, nameRotate: 90, nameTextStyle: nameStyle,
    });

    // running enrichment score curves
    P.sets.forEach((s, i) => {
      const c = SET_COLORS[i];
      series.push({
        type: 'line', name: `${P.key}|${s}`, xAxisIndex: x0, yAxisIndex: y0, data: P.es[i],
        showSymbol: false, symbol: 'none', silent: true, z: 2,
        lineStyle: { width: 5, color: c }, itemStyle: { color: c },
      });
    });
    // hit rug
    P.rugOrder.forEach((setIdx, row) => {
      const c = SET_COLORS[setIdx];
      series.push({
        type: 'scatter', name: `${P.key}#hits#${P.sets[setIdx]}`, xAxisIndex: x0 + 1, yAxisIndex: y0 + 1,
        data: P.hits[setIdx].map((r) => [r, 5.5 - row]),
        symbol: 'rect', symbolSize: [4, 27], silent: true, itemStyle: { color: c, opacity: 1 },
      });
    });
    // ranked list metric
    series.push({
      type: 'line', name: `${P.key}#metric`, xAxisIndex: x0 + 2, yAxisIndex: y0 + 2, data: P.metric,
      showSymbol: false, symbol: 'none', silent: true,
      lineStyle: { width: 1, color: '#BEBEBE' }, itemStyle: { color: '#BEBEBE' },
      areaStyle: { color: '#BEBEBE', opacity: 1, origin: 'auto' },
    });

    legend.push({
      orient: 'vertical', left: L.legend[0], top: L.legend[1], padding: 0, itemGap: L.legendGap,
      itemWidth: 46, itemHeight: 7, icon: 'rect', selectedMode: false, z: 5,
      itemStyle: { borderWidth: 0 },
      data: P.sets.map((s) => `${P.key}|${s}`),
      formatter: (n: string) => n.slice(2),
      textStyle: { fontSize: 19.5, lineHeight: 20, color: '#1A1A1A', fontFamily: FONT, padding: [0, 0, 0, 12] },
    });

    title.push({ text: ['A', 'B', 'C', 'D'][p], left: L.letter[0], top: L.letter[1], padding: 0, textStyle: { fontSize: 125, fontWeight: 'normal', color: '#000000', fontFamily: FONT } });
    title.push({ text: P.gene, left: L.gene[0], top: L.gene[1], padding: 0, textStyle: { fontSize: 32, fontWeight: 'normal', color: '#000000', fontFamily: FONT } });

    graphic.push({ type: 'rect', z: 3, silent: true, shape: { x: L.keyBox[0], y: L.keyBox[1], width: L.keyBox[2], height: L.keyBox[3] }, style: { fill: '#FFFFFF' } });
  });

  title.push({ text: 'E', left: 380, top: 2481, padding: 0, textStyle: { fontSize: 125, fontWeight: 'normal', color: '#000000', fontFamily: FONT } });

  const nodes: any[] = [];
  tfNames.forEach((n, i) => nodes.push({
    name: n, x: tfX[i], y: tfY[i], symbol: 'diamond', symbolSize: [190, 86],
    itemStyle: { color: '#A9B9E1' }, label: { fontSize: 52 },
  }));
  hubNames.forEach((n, i) => nodes.push({
    name: n, x: hubX[i], y: hubY[i], symbol: 'circle', symbolSize: [200, 205],
    itemStyle: { color: '#F8B39B' }, label: { fontSize: 64 },
  }));
  const allX = [...tfX, ...hubX];
  const allY = [...tfY, ...hubY];
  const minX = Math.min(...allX), maxX = Math.max(...allX), minY = Math.min(...allY), maxY = Math.max(...allY);
  series.push({
    type: 'graph', layout: 'none', roam: false, silent: true,
    left: minX, top: minY, width: maxX - minX, height: maxY - minY,
    data: nodes,
    links: edgeList.map(([s, t]) => ({ source: s, target: t })),
    lineStyle: { color: '#8A8A8A', width: 4.5, opacity: 1, curveness: 0 },
    label: { show: true, position: 'inside', color: '#1A1A1A', fontFamily: FONT },
    emphasis: { disabled: true },
  });

  return {
    animation: false,
    backgroundColor: '#FFFFFF',
    textStyle: { fontFamily: FONT },
    title, legend, grid, xAxis, yAxis, series, graphic,
  };
}

export default function App() {
  const ref = useRef<HTMLDivElement>(null);
  useEffect(() => {
    document.body.style.margin = '0';
    const chart = echarts.init(ref.current as HTMLDivElement, null, { renderer: 'svg', width: 3548, height: 4004 });
    chart.setOption(buildOption() as any);
    return () => { chart.dispose(); };
  }, []);
  return <div ref={ref} style={{ width: 3548, height: 4004, background: '#FFFFFF' }} />;
}
